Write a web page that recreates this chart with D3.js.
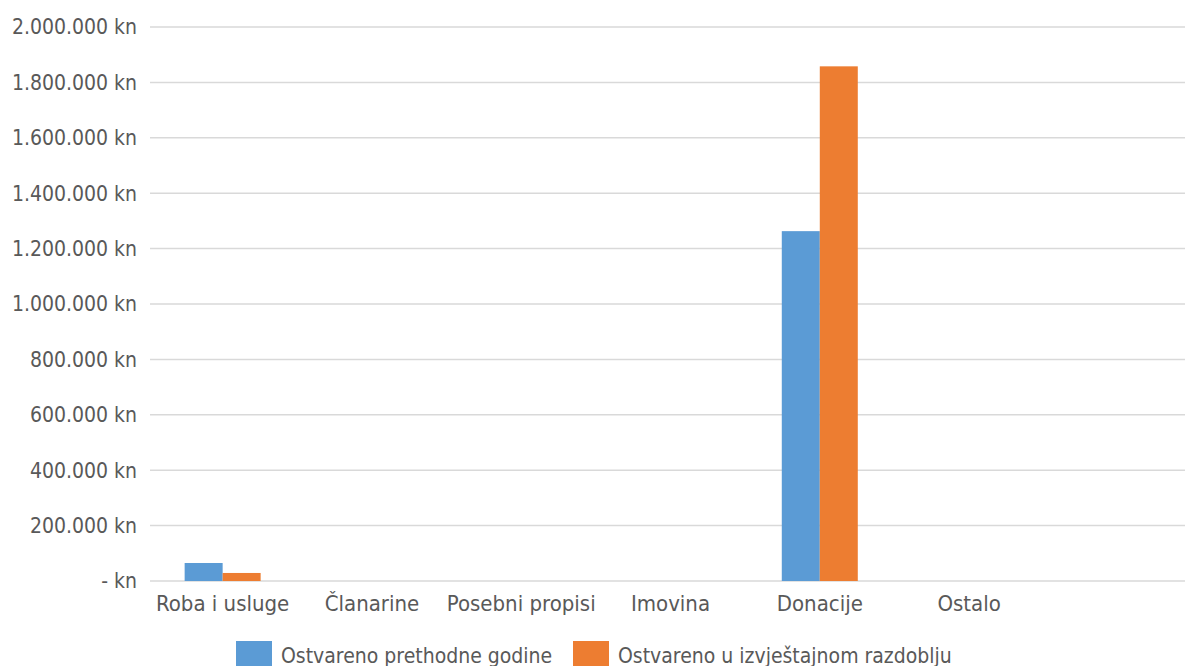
<!DOCTYPE html>
<html>
<head>
<meta charset="utf-8">
<script src="https://cdn.jsdelivr.net/npm/d3@7"></script>
<style>
  body { margin: 0; background: #fff; }
  text { font-family: "DejaVu Sans Condensed", "DejaVu Sans", sans-serif; font-stretch: condensed; fill: #595959; }
</style>
</head>
<body>
<div id="chart"></div>
<script>
// data
const categories = ["Roba i usluge", "Članarine", "Posebni propisi", "Imovina", "Donacije", "Ostalo", ""]
const seriesNames = ["Ostvareno prethodne godine", "Ostvareno u izvještajnom razdoblju"]
const prethodne = [65000, 0, 0, 0, 1263000, 0, 0]
const izvjestajno = [29000, 0, 0, 0, 1858000, 0, 0]
const yTicks = [0, 200000, 400000, 600000, 800000, 1000000, 1200000, 1400000, 1600000, 1800000, 2000000]
const colors = ["#5B9BD5", "#ED7D31"]

const width = 1185, height = 666
const margin = { top: 27, left: 148, bottom: 85 }

const svg = d3.select("#chart").append("svg")
  .attr("width", width)
  .attr("height", height)

const x = d3.scaleBand()
  .domain(d3.range(categories.length))
  .range([margin.left, 1193])

const xInner = d3.scaleBand()
  .domain([0, 1])
  .range([0, 76])

const y = d3.scaleLinear()
  .domain([0, 2000000])
  .range([height - margin.bottom, margin.top])

const fmt = v => v === 0 ? "- kn" : d3.format(",")(v).replace(/,/g, ".") + " kn"

// gridlines
svg.append("g")
  .selectAll("line")
  .data(yTicks)
  .join("line")
    .attr("x1", 150)
    .attr("x2", width)
    .attr("y1", d => y(d))
    .attr("y2", d => y(d))
    .attr("stroke", "#d9d9d9")
    .attr("stroke-width", 1.5)

// y labels
svg.append("g")
  .selectAll("text")
  .data(yTicks)
  .join("text")
    .attr("x", 137)
    .attr("y", d => y(d))
    .attr("dy", "0.35em")
    .attr("text-anchor", "end")
    .attr("font-size", 21)
    .text(fmt)

// bars
const series = [prethodne, izvjestajno]
series.forEach((vals, s) => {
  svg.append("g")
    .selectAll("rect")
    .data(vals)
    .join("rect")
      .attr("x", (d, i) => x(i) + x.bandwidth() / 2 - 38 + xInner(s))
      .attr("width", xInner.bandwidth())
      .attr("y", d => y(d))
      .attr("height", d => y(0) - y(d))
      .attr("fill", colors[s])
})

// category labels
svg.append("g")
  .selectAll("text")
  .data(categories)
  .join("text")
    .attr("x", (d, i) => x(i) + x.bandwidth() / 2)
    .attr("y", 603)
    .attr("dy", "0.35em")
    .attr("text-anchor", "middle")
    .attr("font-size", 22)
    .text(d => d)

// legend
const legendX = [236, 573]
const legend = svg.append("g")
  .selectAll("g")
  .data(seriesNames)
  .join("g")
    .attr("transform", (d, i) => `translate(${legendX[i]}, 641)`)

legend.append("rect")
  .attr("width", 36)
  .attr("height", 30)
  .attr("fill", (d, i) => colors[i])

legend.append("text")
  .attr("x", 45)
  .attr("y", 15)
  .attr("dy", "0.35em")
  .attr("font-size", 21)
  .text(d => d)
</script>
</body>
</html>
